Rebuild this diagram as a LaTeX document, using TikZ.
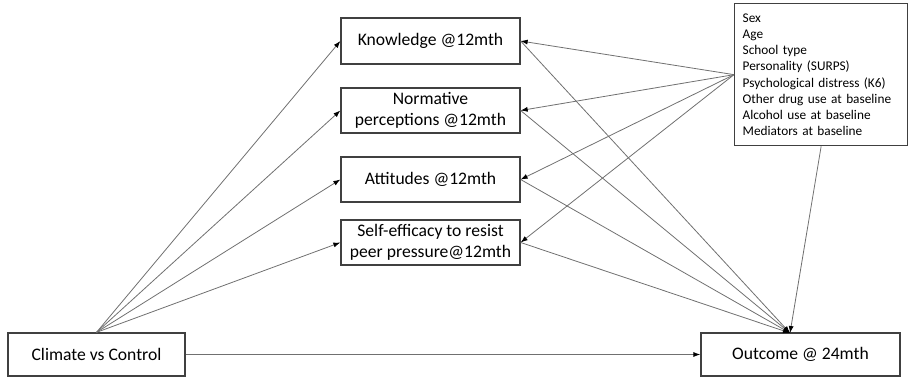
\documentclass[tikz,border=0pt]{standalone}
\usepackage{fontspec}
\setmainfont{Carlito}
\usetikzlibrary{arrows.meta}
\definecolor{boxline}{HTML}{404040}
\definecolor{linkline}{HTML}{707070}

\begin{document}
\begin{tikzpicture}[x=1pt,y=-1pt,
	varbox/.style={draw=boxline,line width=1.3pt,fill=white,inner sep=2pt,
		font=\fontsize{17.6}{20.5}\selectfont,align=center},
	link/.style={draw=linkline,line width=0.8pt,-{Latex[length=7pt,width=5pt,color=black]}}]
	\useasboundingbox (0,0) rectangle (910,378);

	% mediators
	\node[varbox,minimum width=179pt,minimum height=46pt] (know) at (430.5,41) {Knowledge @12mth};
	\node[varbox,minimum width=179pt,minimum height=45pt] (norm) at (430.5,110.5) {Normative\\perceptions @12mth};
	\node[varbox,minimum width=179pt,minimum height=45pt] (att) at (430.5,179.5) {Attitudes @12mth};
	\node[varbox,minimum width=179pt,minimum height=45pt] (selfeff) at (430.5,242.5) {Self-efficacy to resist\\peer pressure@12mth};

	% exposure and outcome
	\node[varbox,minimum width=177pt,minimum height=43pt] (clim) at (96.5,354.5) {Climate vs Control};
	\node[varbox,minimum width=199pt,minimum height=43pt] (outc) at (800.5,354.5) {Outcome @ 24mth};
	\coordinate (outin) at (790,333);

	% covariates
	\node[varbox,minimum height=142pt,text width=157pt,align=left,anchor=north west,
		inner xsep=8pt,font=\fontsize{13.3}{16.2}\selectfont] (cov) at (734,3)
		{Sex\\Age\\School type\\Personality (SURPS)\\Psychological distress (K6)\\Other drug use at baseline\\Alcohol use at baseline\\Mediators at baseline};

	\foreach \m in {know,norm,att,selfeff} {
		\draw[link] (clim.north) -- (\m.west);
		\draw[link] (\m.east) -- (outin);
		\draw[link] (cov.west) -- (\m.east);
	}
	\draw[link] (cov.south) -- (outin);
	\draw[link] (clim.east) -- (outc.west);
\end{tikzpicture}
\end{document}
